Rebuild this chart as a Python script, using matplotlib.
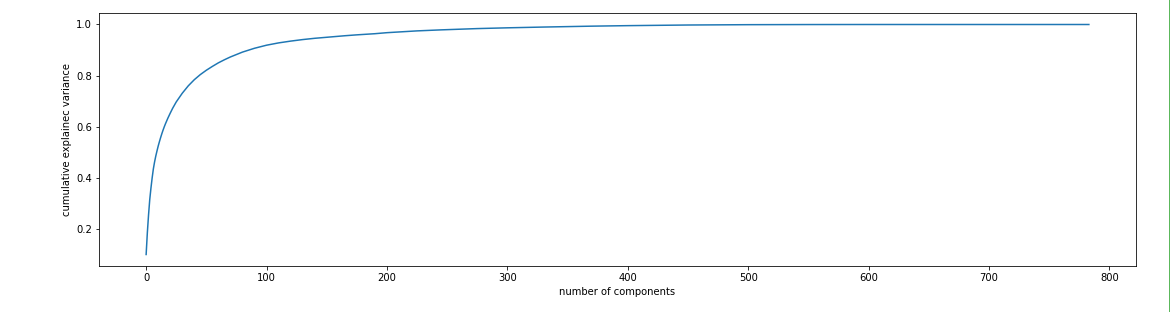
import matplotlib
matplotlib.use("Agg")
import matplotlib.pyplot as plt
import matplotlib.lines as mlines

# cumulative explained variance (component index -> value)
components = [0, 1, 2, 3, 4, 5, 6, 7, 8, 9, 10, 11, 12, 13, 14, 15, 16, 17,
              18, 19, 20, 22, 25, 30, 35, 40, 45, 50, 55, 60, 65, 70, 80, 90,
              100, 110, 120, 130, 140, 150, 165, 175, 190, 200, 225, 245,
              275, 300, 330, 370, 400, 450, 500, 550, 600, 650, 700, 783]
cum_variance = [0.100, 0.185, 0.255, 0.315, 0.360, 0.400, 0.435, 0.462,
                0.485, 0.505, 0.524, 0.541, 0.557, 0.572, 0.586, 0.599,
                0.611, 0.622, 0.633, 0.643, 0.653, 0.672, 0.697, 0.731,
                0.760, 0.784, 0.804, 0.821, 0.836, 0.850, 0.862, 0.873,
                0.892, 0.907, 0.919, 0.928, 0.935, 0.941, 0.946, 0.950,
                0.956, 0.9595, 0.964, 0.968, 0.975, 0.979, 0.984, 0.987,
                0.990, 0.9935, 0.9955, 0.998, 0.9993, 0.9998,
                1.0, 1.0, 1.0, 1.0]

W, H = 1171, 312
fig = plt.figure(figsize=(W / 72, H / 72), dpi=72)
ax = fig.add_axes([99 / W, (H - 266) / H, (1136 - 99) / W, (266 - 13) / H])

ax.plot(components, cum_variance, color='#1f77b4', linewidth=1.5)
ax.set_xlabel('number of components')
ax.set_ylabel('cumulative explainec variance')

# notebook cell border on the right edge of the screenshot
fig.add_artist(mlines.Line2D([1168.5 / W, 1168.5 / W], [1 / H, 1.0],
                             color='#5cb85c', linewidth=1,
                             transform=fig.transFigure))

fig.savefig('out.png', dpi=72)
